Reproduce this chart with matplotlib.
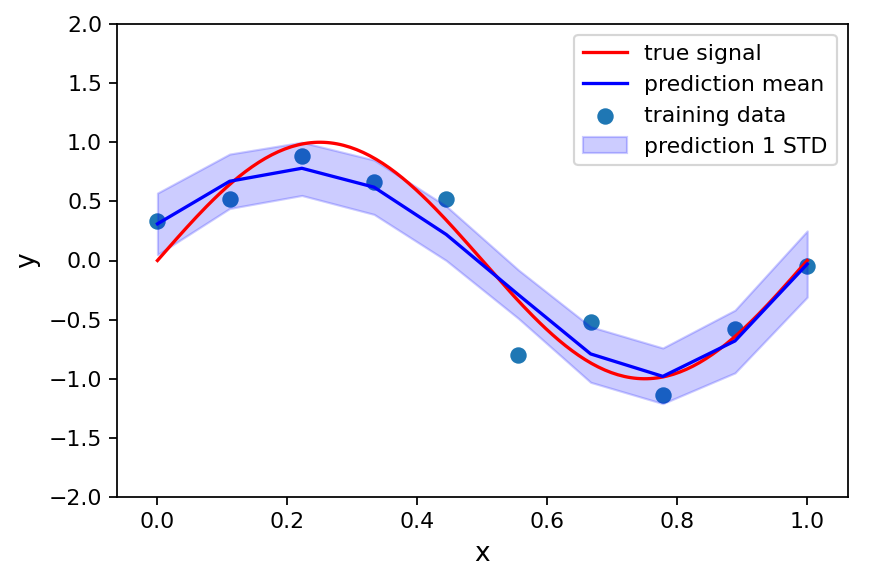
import numpy as np
import matplotlib
matplotlib.use("Agg")
import matplotlib.pyplot as plt

# training inputs / observations
x_train = np.linspace(0, 1, 10)
y_train = [0.33, 0.52, 0.88, 0.66, 0.52, -0.80, -0.52, -1.14, -0.58, -0.05]

# GP prediction at the same inputs
pred_mean = [0.31, 0.67, 0.78, 0.62, 0.22, -0.29, -0.79, -0.98, -0.68, -0.03]
pred_upper = [0.57, 0.90, 1.00, 0.85, 0.46, -0.08, -0.56, -0.74, -0.42, 0.25]
pred_lower = [0.05, 0.44, 0.55, 0.39, 0.00, -0.49, -1.03, -1.21, -0.95, -0.31]

x_true = np.linspace(0, 1, 200)
y_true = np.sin(2 * np.pi * x_true)

DPI = 158
fig = plt.figure(figsize=(871 / DPI, 584 / DPI), dpi=DPI)
ax = fig.add_axes([117.5 / 871, 1 - 497 / 584, (847.5 - 117.5) / 871, (497 - 24) / 584])

ax.plot(x_true, y_true, color="red", label="true signal")
ax.plot(x_train, pred_mean, color="blue", label="prediction mean")
ax.scatter(x_train, y_train, s=42, label="training data")
ax.fill_between(x_train, pred_lower, pred_upper, color="blue", alpha=0.2,
                label="prediction 1 STD")

ax.set_xlim(-0.0615, 1.062)
ax.set_ylim(-2, 2)
ax.set_xlabel("x", fontsize=12)
ax.set_ylabel("y", fontsize=12)
ax.legend(loc="upper right")

fig.savefig("out.png", dpi=DPI)
